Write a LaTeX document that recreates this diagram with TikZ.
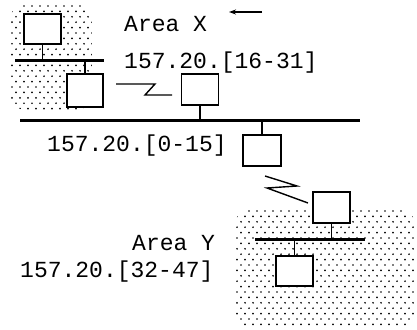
\documentclass[tikz,border=0pt]{standalone}
\usepackage{fontspec}
\setmonofont{Liberation Mono}
\usetikzlibrary{arrows.meta}
\begin{document}
\begin{tikzpicture}[x=1pt,y=-1pt,
  host/.style={draw,fill=white,line width=1.7pt,inner sep=0pt,
               minimum width=37pt,minimum height=31pt},
  bus/.style={line width=3pt},
  stub/.style={line width=1.5pt},
  link/.style={line width=1.4pt,line join=miter},
  lbl/.style={font=\ttfamily\fontsize{23}{24}\selectfont,
              inner sep=0pt,anchor=base west},
  dot/.style={fill=black},
]
\useasboundingbox (0,0) rectangle (417,329);

% stippled area X
\begin{scope}
  \clip[rounded corners=16pt] (10,4) rectangle (92,110);
  \foreach \r in {0,...,20}{
    \foreach \c in {0,...,11}{
      \fill[dot] ({8+8*\c+4*mod(\r,2)},{6+5.4*\r}) circle (0.95pt);
    }
  }
\end{scope}

% stippled area Y
\begin{scope}
  \clip[rounded corners=16pt] (235,209) rectangle (415,327);
  \foreach \r in {0,...,22}{
    \foreach \c in {0,...,23}{
      \fill[dot] ({233+8*\c+4*mod(\r,2)},{211+5.4*\r}) circle (0.95pt);
    }
  }
\end{scope}

% bus ends
\coordinate (bxL) at (15,60);
\coordinate (bxR) at (104,60);
\coordinate (bmL) at (20,120);
\coordinate (bmR) at (360,120);
\coordinate (byL) at (255,239);
\coordinate (byR) at (365,239);

\draw[bus] (bxL) -- (bxR);
\draw[bus] (bmL) -- (bmR);
\draw[bus] (byL) -- (byR);

% hosts and routers
\node[host,minimum height=30pt] (xa) at (42.5,29) {};
\node[host,minimum height=33pt,minimum width=36pt] (xb) at (85,90.5) {};
\node[host] (r1) at (200,89.5) {};
\node[host,minimum width=38pt] (rm) at (262,150.5) {};
\node[host] (ya) at (331.5,207.5) {};
\node[host,minimum height=30pt] (yb) at (294.5,271) {};

% drops onto the buses
\draw[stub] (xa.south) -- (xa.south |- bxL);
\draw[stub] (xb.north) -- (xb.north |- bxL);
\draw[stub] (r1.south) -- (r1.south |- bmL);
\draw[stub] (rm.north) -- (rm.north |- bmL);
\draw[stub] (ya.south) -- (ya.south |- byL);
\draw[stub] (yb.north) -- (yb.north |- byL);

% serial link between area X and the backbone
\coordinate (zx1) at (116,84);
\coordinate (zx2) at (155,84);
\coordinate (zx3) at (145,95);
\coordinate (zx4) at (172,95);
\draw[link] (zx1) -- (zx2) -- (zx3) -- (zx4);

% serial link between the backbone and area Y
\coordinate (zy1) at (265,176);
\coordinate (zy2) at (297,186);
\coordinate (zy3) at (267,188);
\coordinate (zy4) at (308,203);
\draw[link] (zy1) -- (zy2) -- (zy3) -- (zy4);

% arrow
\coordinate (arS) at (262,12);
\coordinate (arE) at (229,12);
\draw[line width=1.2pt,-{Stealth[length=7pt,width=5pt]}] (arS) -- (arE);

% labels
\node[lbl] (tAX) at (124,32) {Area X};
\node[lbl] (tNX) at (124,68) {157.20.[16-31]};
\node[lbl] (tNM) at (47,151) {157.20.[0-15]};
\node[lbl] (tAY) at (132,250) {Area Y};
\node[lbl] (tNY) at (20,277) {157.20.[32-47]};
\end{tikzpicture}
\end{document}
